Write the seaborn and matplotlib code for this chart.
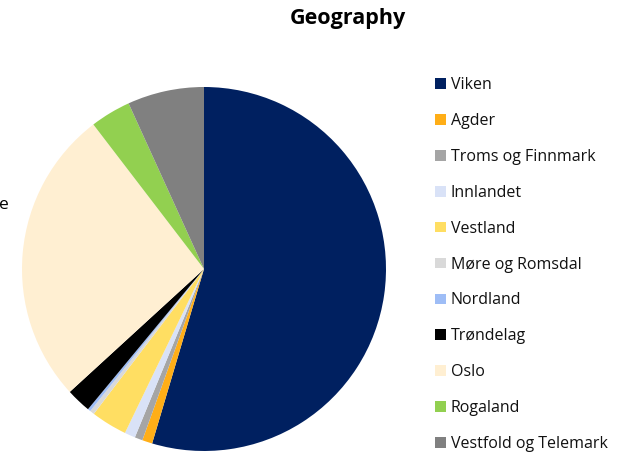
# Geography pie chart recreation
import matplotlib
matplotlib.use("Agg")
import matplotlib.pyplot as plt
import seaborn as sns
from matplotlib.patches import Patch

regions = ["Viken", "Agder", "Troms og Finnmark", "Innlandet", "Vestland",
           "Møre og Romsdal", "Nordland", "Trøndelag", "Oslo", "Rogaland",
           "Vestfold og Telemark"]
shares = [54.6, 0.9, 0.7, 0.95, 3.2, 0.4, 0.25, 2.2, 26.4, 3.6, 6.8]
colors = ["#002060", "#FFAE17", "#A5A5A5", "#D9E2F7", "#FFDE62", "#D9D9D9",
          "#9EBDF6", "#000000", "#FFEFD2", "#92D050", "#808080"]


def main():
    sns.set_theme(style="white")
    plt.rcParams["font.family"] = ["Open Sans", "DejaVu Sans"]
    plt.rcParams["text.color"] = "#111111"

    fig = plt.figure(figsize=(6.25, 4.55), dpi=100)
    ax = fig.add_axes([0.0352, 0.0088, 0.5824, 0.8])
    ax.pie(shares, colors=colors, startangle=90, counterclock=False,
           radius=1, wedgeprops=dict(linewidth=0))
    ax.set_xlim(-1, 1)
    ax.set_ylim(-1, 1)
    ax.set_aspect("equal")
    ax.axis("off")

    fig.text(0.557, 0.96, "Geography", ha="center", va="center",
             fontsize=15.5, fontweight="bold", color="black")
    # cut-off label remnant on the left edge
    fig.text(-0.002, 0.549, "e", ha="left", va="center", fontsize=12.5,
             color="black")

    handles = [Patch(facecolor=c, edgecolor="none") for c in colors]
    fig.legend(handles, regions, loc="upper left",
               bbox_to_anchor=(0.684, 0.848), frameon=False,
               fontsize=11.5, handlelength=0.65, handleheight=0.65,
               handletextpad=0.3, labelspacing=1.245, borderpad=0,
               labelcolor="#111111")

    fig.savefig("out.png", dpi=100)


if __name__ == "__main__":
    main()
